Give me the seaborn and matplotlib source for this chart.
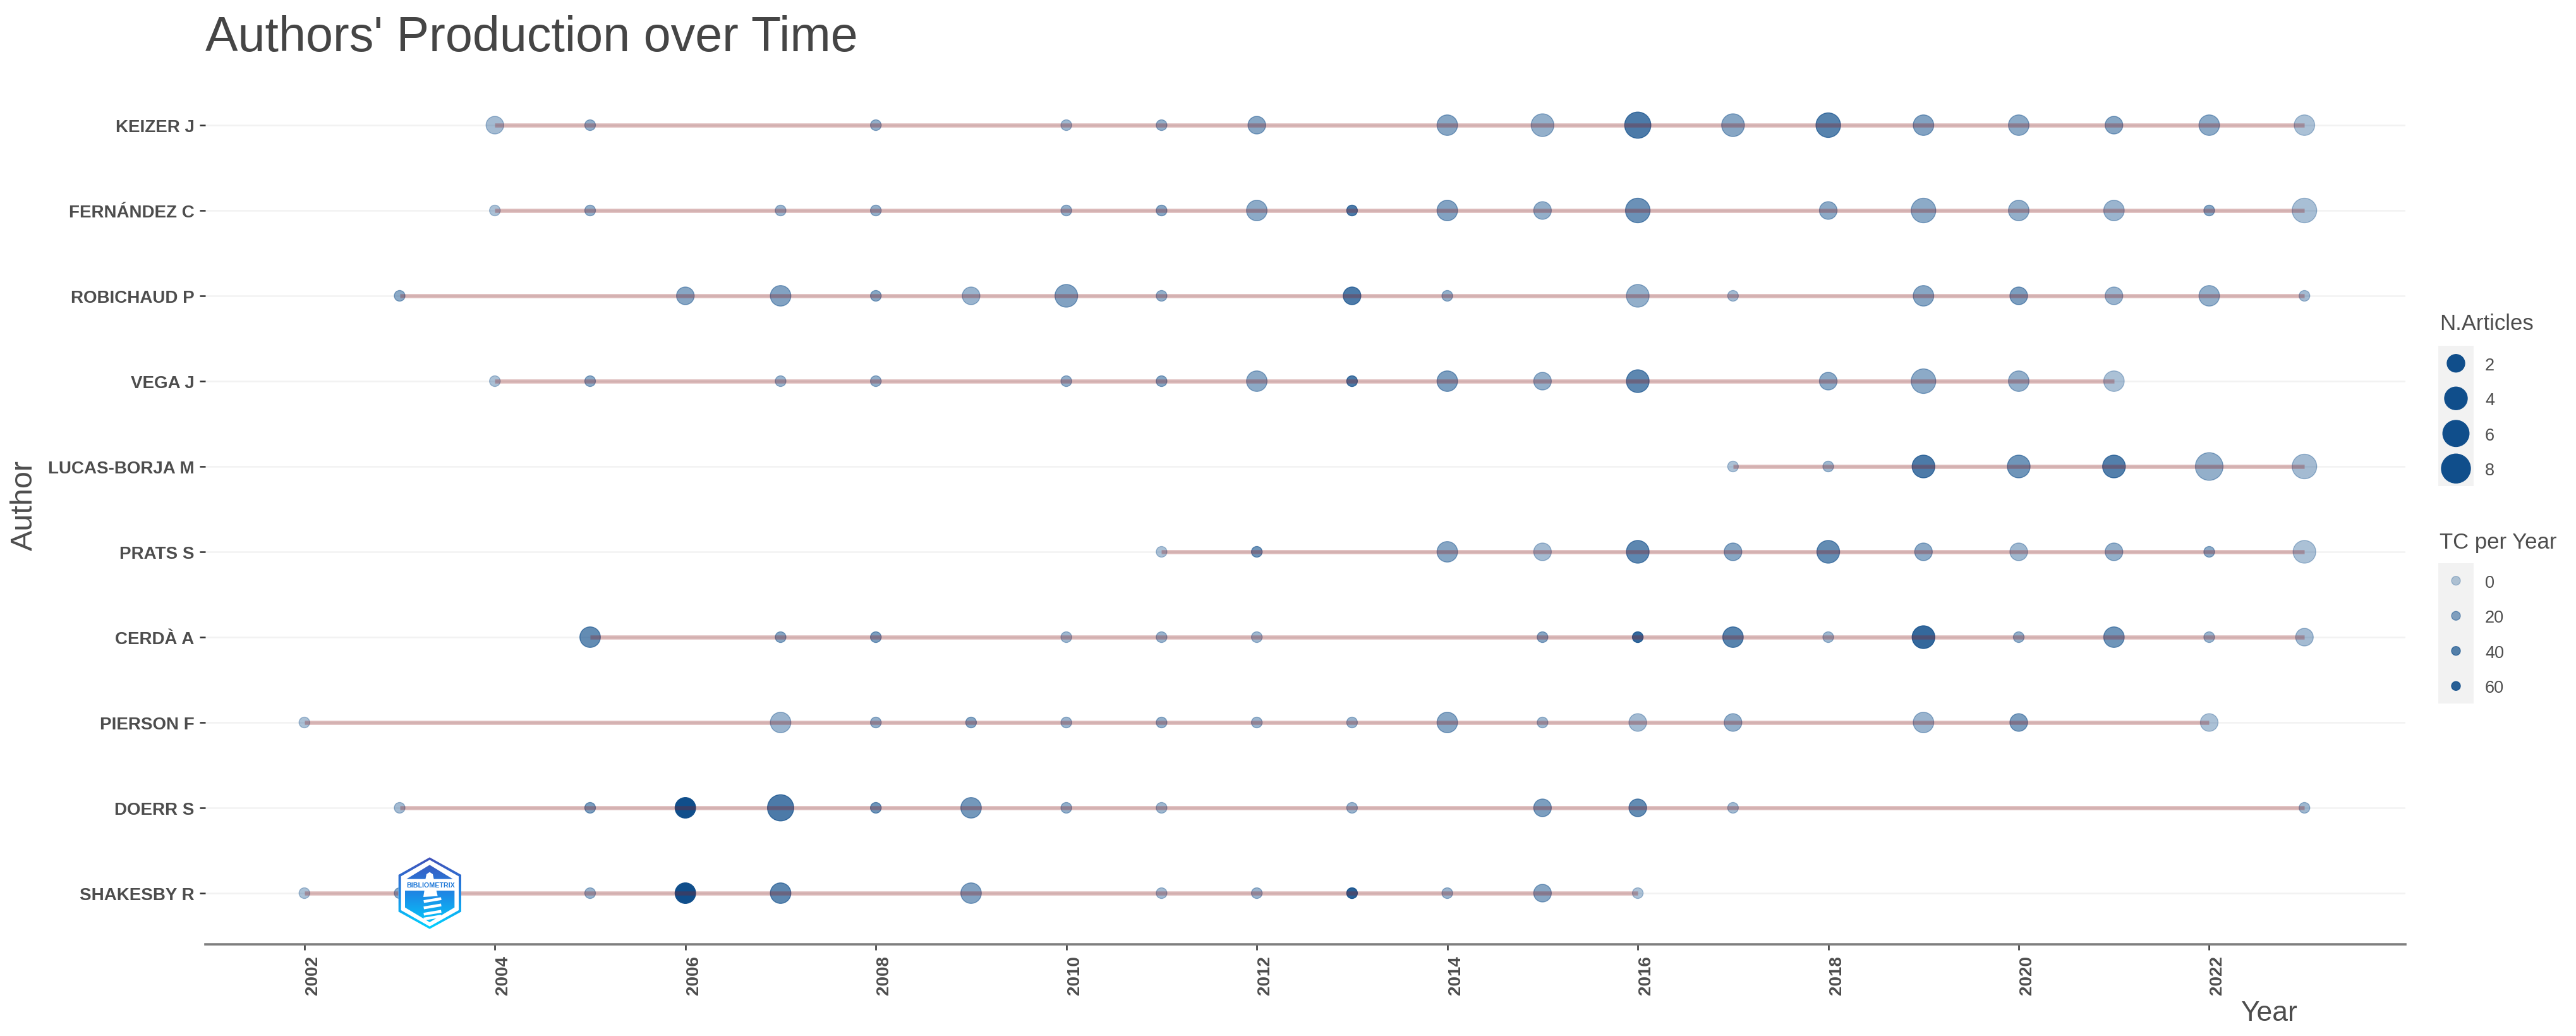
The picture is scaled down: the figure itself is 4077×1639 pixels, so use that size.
import numpy as np
import pandas as pd
import matplotlib
matplotlib.use("Agg")
import matplotlib.pyplot as plt
import seaborn as sns
from matplotlib.colors import LinearSegmentedColormap, to_rgba
from matplotlib.patches import Polygon, PathPatch
from matplotlib.path import Path

W, H = 4077, 1640

AUTHORS = ["KEIZER J", "FERNÁNDEZ C", "ROBICHAUD P", "VEGA J", "LUCAS-BORJA M",
           "PRATS S", "CERDÀ A", "PIERSON F", "DOERR S", "SHAKESBY R"]

# year / number of articles / citations per year
keizer_years = [2004, 2005, 2008, 2010, 2011, 2012, 2014, 2015, 2016, 2017, 2018, 2019, 2020, 2021, 2022, 2023]
keizer_articles = [2, 1, 1, 1, 1, 2, 3, 4, 6, 4, 5, 3, 3, 2, 3, 3]
keizer_tc = [8, 15, 15, 10, 15, 20, 20, 15, 45, 20, 40, 22, 18, 20, 18, 5]

fernandez_years = [2004, 2005, 2007, 2008, 2010, 2011, 2012, 2013, 2014, 2015, 2016, 2018, 2019, 2020, 2021, 2022, 2023]
fernandez_articles = [1, 1, 1, 1, 1, 1, 3, 1, 3, 2, 5, 2, 5, 3, 3, 1, 5]
fernandez_tc = [5, 15, 12, 15, 15, 20, 18, 45, 22, 15, 32, 18, 18, 15, 12, 20, 6]

robichaud_years = [2003, 2006, 2007, 2008, 2009, 2010, 2011, 2013, 2014, 2016, 2017, 2019, 2020, 2021, 2022, 2023]
robichaud_articles = [1, 2, 3, 1, 2, 4, 1, 2, 1, 4, 1, 3, 2, 2, 3, 1]
robichaud_tc = [18, 20, 22, 20, 12, 22, 15, 45, 15, 15, 8, 20, 25, 12, 15, 8]

vega_years = [2004, 2005, 2007, 2008, 2010, 2011, 2012, 2013, 2014, 2015, 2016, 2018, 2019, 2020, 2021]
vega_articles = [1, 1, 1, 1, 1, 1, 3, 1, 3, 2, 4, 2, 5, 3, 3]
vega_tc = [5, 18, 12, 15, 15, 20, 18, 45, 25, 15, 38, 18, 18, 15, 5]

lucas_years = [2017, 2018, 2019, 2020, 2021, 2022, 2023]
lucas_articles = [1, 1, 4, 4, 4, 7, 5]
lucas_tc = [5, 10, 45, 30, 42, 15, 8]

prats_years = [2011, 2012, 2014, 2015, 2016, 2017, 2018, 2019, 2020, 2021, 2022, 2023]
prats_articles = [1, 1, 3, 2, 4, 2, 4, 2, 2, 2, 1, 4]
prats_tc = [5, 30, 20, 8, 38, 20, 35, 18, 10, 15, 18, 5]

cerda_years = [2005, 2007, 2008, 2010, 2011, 2012, 2015, 2016, 2017, 2018, 2019, 2020, 2021, 2022, 2023]
cerda_articles = [3, 1, 1, 1, 1, 1, 1, 1, 3, 1, 4, 1, 3, 1, 2]
cerda_tc = [35, 20, 25, 10, 12, 10, 20, 55, 40, 10, 55, 15, 30, 12, 8]

pierson_years = [2002, 2007, 2008, 2009, 2010, 2011, 2012, 2013, 2014, 2015, 2016, 2017, 2019, 2020, 2022]
pierson_articles = [1, 3, 1, 1, 1, 1, 1, 1, 3, 1, 2, 2, 3, 2, 2]
pierson_tc = [5, 12, 15, 20, 12, 15, 12, 12, 20, 10, 8, 15, 12, 25, 5]

doerr_years = [2003, 2005, 2006, 2007, 2008, 2009, 2010, 2011, 2013, 2015, 2016, 2017, 2023]
doerr_articles = [1, 1, 3, 6, 1, 3, 1, 1, 1, 2, 2, 1, 1]
doerr_tc = [8, 25, 70, 45, 30, 28, 15, 10, 12, 25, 35, 8, 10]

shakesby_years = [2002, 2003, 2005, 2006, 2007, 2009, 2011, 2012, 2013, 2014, 2015, 2016]
shakesby_articles = [1, 1, 1, 3, 3, 3, 1, 1, 1, 1, 2, 1]
shakesby_tc = [5, 18, 12, 70, 38, 22, 8, 12, 60, 12, 20, 4]

YEAR_TICKS = [2002, 2004, 2006, 2008, 2010, 2012, 2014, 2016, 2018, 2020, 2022]
ARTICLE_LEGEND = [2, 4, 6, 8]
TC_LEGEND = [0, 20, 40, 60]

BLUE = "#104E8B"
RED = "#8B1A1A"
GREY = "#4D4D4D"
KEY_BG = "#F2F2F2"

sns.set_theme(style="white")
plt.rcParams["font.family"] = ["Liberation Sans", "DejaVu Sans"]

columns = [(keizer_years, keizer_articles, keizer_tc),
           (fernandez_years, fernandez_articles, fernandez_tc),
           (robichaud_years, robichaud_articles, robichaud_tc),
           (vega_years, vega_articles, vega_tc),
           (lucas_years, lucas_articles, lucas_tc),
           (prats_years, prats_articles, prats_tc),
           (cerda_years, cerda_articles, cerda_tc),
           (pierson_years, pierson_articles, pierson_tc),
           (doerr_years, doerr_articles, doerr_tc),
           (shakesby_years, shakesby_articles, shakesby_tc)]
frames = []
for i, (author, (yrs, arts, tcs)) in enumerate(zip(AUTHORS, columns)):
    frames.append(pd.DataFrame({"Author": author, "pos": i, "Year": yrs, "Articles": arts, "TC": tcs}))
df = pd.concat(frames, ignore_index=True)


def point_area(n):
    # same area scale ggplot uses, 18 to 49 px across
    d = 18 + 31 * np.sqrt((n - 1) / 8)
    return ((d - 1) * 0.72) ** 2


def tc_color(tc):
    return to_rgba(BLUE, 0.3 + 0.7 * tc / 70)


def px_axes(left, top, right, bottom, **kw):
    return fig.add_axes([left / W, 1 - bottom / H, (right - left) / W, (bottom - top) / H], **kw)


fig = plt.figure(figsize=(W / 100, H / 100), dpi=100)
ax = px_axes(325, 118, 3807, 1495)

sns.scatterplot(data=df, x="Year", y="pos", hue="TC", size="Articles",
                palette={t: tc_color(t) for t in df["TC"].unique()},
                sizes={n: point_area(n) for n in df["Articles"].unique()},
                edgecolor="face", linewidth=1, legend=False, zorder=3, ax=ax)
sns.lineplot(data=df, x="Year", y="pos", units="Author", estimator=None, sort=True,
             color=RED, alpha=0.3, linewidth=4.7, solid_capstyle="butt",
             legend=False, zorder=4, ax=ax)

ax.set_xlim(2000.96, 2024.06)
ax.set_ylim(9.6, -0.6)
ax.set_yticks(range(len(AUTHORS)))
ax.set_yticklabels(AUTHORS, fontweight="bold", fontsize=20, color=GREY)
ax.set_xticks(YEAR_TICKS)
ax.set_xticklabels([str(y) for y in YEAR_TICKS], rotation=90, ha="left",
                   fontweight="bold", fontsize=20, color=GREY)
ax.tick_params(axis="both", length=6.5, width=1.8, color="#333333", pad=6, left=True, bottom=True)
ax.grid(axis="y", color=KEY_BG, linewidth=1.8)
ax.grid(axis="x", visible=False)
ax.set_axisbelow(True)
ax.set_xlabel("")
ax.set_ylabel("")
for side in ["top", "right", "left"]:
    ax.spines[side].set_visible(False)
ax.spines["bottom"].set_color("#7F7F7F")
ax.spines["bottom"].set_linewidth(2.6)

fig.text(325 / W, 1 - 61 / H, "Authors' Production over Time", fontsize=55.6, color="#454545", va="center", ha="left")
fig.text(38 / W, 1 - 800 / H, "Author", fontsize=35, color=GREY, rotation=90, va="center", ha="center")
fig.text(3591 / W, 1 - 1604 / H, "Year", fontsize=32, color=GREY, va="center", ha="center")

# legends
ax_n = px_axes(3859, 548, 3915, 770)
legend_n = pd.DataFrame({"x": 0, "y": range(4), "n": ARTICLE_LEGEND})
sns.scatterplot(data=legend_n, x="x", y="y", size="n", color=BLUE, edgecolor="face", linewidth=1,
                sizes={n: point_area(n) for n in ARTICLE_LEGEND}, legend=False, ax=ax_n)
ax_t = px_axes(3859, 892, 3915, 1114)
legend_t = pd.DataFrame({"x": 0, "y": range(4), "tc": TC_LEGEND})
sns.scatterplot(data=legend_t, x="x", y="y", hue="tc", palette={t: tc_color(t) for t in TC_LEGEND},
                s=(14 * 0.72) ** 2, edgecolor="face", linewidth=1, legend=False, ax=ax_t)
for a, labels in [(ax_n, ARTICLE_LEGEND), (ax_t, TC_LEGEND)]:
    a.set_facecolor(KEY_BG)
    a.set_xlim(-1, 1)
    a.set_ylim(3.5, -0.5)
    a.set_xticks([])
    a.set_yticks(range(4))
    a.set_yticklabels([str(v) for v in labels], fontsize=19.5, color=GREY)
    a.yaxis.tick_right()
    a.tick_params(axis="y", length=0, pad=13)
    a.set_xlabel("")
    a.set_ylabel("")
    a.grid(False)
    for s in a.spines.values():
        s.set_visible(False)
fig.text(3861 / W, 1 - 513 / H, "N.Articles", fontsize=25, color=GREY, va="center", ha="left")
fig.text(3861 / W, 1 - 859 / H, "TC per Year", fontsize=25, color=GREY, va="center", ha="left")

# logo, coordinates are in a 660x540 box laid over the chart
logo = px_axes(560, 1320, 780, 1500, zorder=6)
logo.patch.set_alpha(0)
logo.axis("off")
hex_out = [(360, 112), (510, 195), (510, 370), (360, 452), (212, 370), (212, 195), (360, 112)]
hex_in = [(360, 124), (224, 202), (224, 363), (360, 440), (498, 363), (498, 202), (360, 124)]
roof = [(360, 148), (470, 215), (250, 215), (360, 148)]
body = [(243, 270), (478, 270), (478, 350), (360, 420), (243, 350), (243, 270)]
logo.add_patch(Polygon(hex_out, closed=True, facecolor="white", edgecolor="none", zorder=1))
clip = Path.make_compound_path(*[Path(p, closed=True) for p in (hex_out, hex_in, roof, body)])
cmap = LinearSegmentedColormap.from_list("logo", ["#4150B8", "#1E88E5", "#00D4FF"])
img = logo.imshow(np.linspace(0, 1, 256)[:, None], extent=(205, 515, 455, 110), aspect="auto", cmap=cmap, zorder=2)
logo.set_xlim(0, 660)
logo.set_ylim(540, 0)
img.set_clip_path(PathPatch(clip, transform=logo.transData))
logo.add_patch(Polygon([(340, 216), (345, 192), (360, 182), (375, 192), (380, 216)], facecolor="white", edgecolor="none", zorder=3))
logo.add_patch(Polygon([(335, 270), (392, 270), (398, 296), (330, 300)], facecolor="white", edgecolor="none", zorder=3))
for y0 in [322, 352, 382, 405]:
    logo.plot([332, 415], [y0, y0 - 14], color="white", linewidth=3.2, solid_capstyle="butt", zorder=3)
logo.text(364, 244, "BIBLIOMETRIX", fontsize=7.7, fontweight="bold", color="#1E78D8", ha="center", va="center", zorder=4)

fig.savefig("out.png", dpi=100)
plt.close(fig)
